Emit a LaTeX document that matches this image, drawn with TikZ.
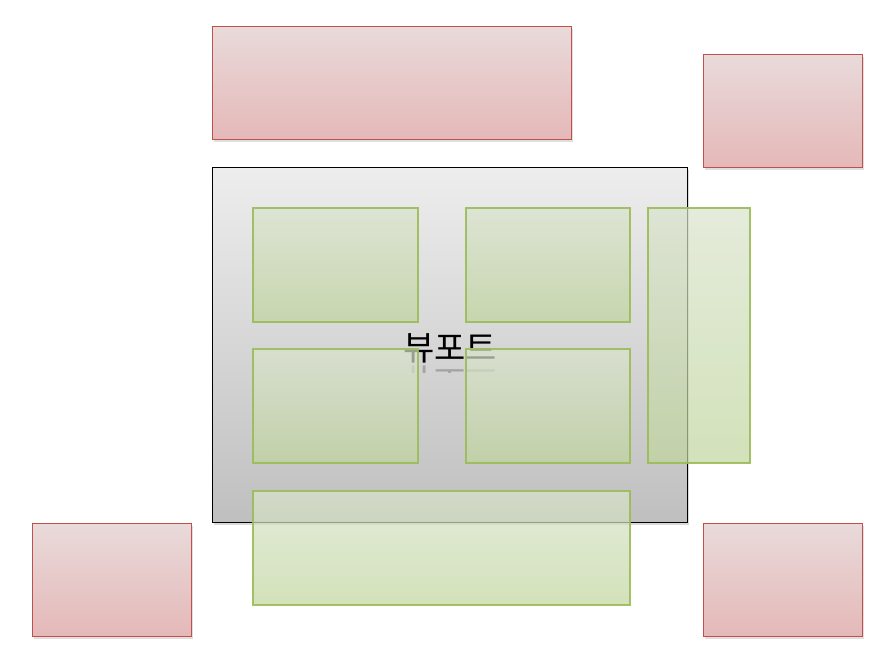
\documentclass[tikz,border=0pt]{standalone}
\usepackage{fontspec}
\newfontfamily\kr{Noto Sans CJK KR}
\usetikzlibrary{shadows}
\definecolor{redb}{HTML}{C0504D}
\definecolor{redt}{HTML}{E9DADA}
\definecolor{redbt}{HTML}{E5B8B8}
\definecolor{grnb}{HTML}{9BBB59}
\definecolor{grnt}{HTML}{D9E3CC}
\definecolor{grnbt}{HTML}{C0D59C}
\tikzset{
  redbox/.style={draw=redb, line width=1.2pt, top color=redt, bottom color=redbt, inner sep=0, anchor=north west, drop shadow={shadow xshift=1pt, shadow yshift=-2pt, opacity=0.25}},
  graybox/.style={draw=black, line width=1.2pt, top color=black!7, bottom color=black!25, inner sep=0, anchor=north west, drop shadow={shadow xshift=1pt, shadow yshift=-2pt, opacity=0.3}},
  grnbox/.style={draw=grnb, line width=1.6pt, top color=grnt, bottom color=grnbt, fill opacity=0.7, draw opacity=0.9, inner sep=0, anchor=north west},
  lblfont/.style={font=\kr\fontsize{34}{34}\selectfont, inner sep=0, anchor=base},
}
\begin{document}
\begin{tikzpicture}[x=1pt,y=-1pt]
\useasboundingbox (0,0) rectangle (895,668);
% red boxes
\node[redbox, minimum width=359pt, minimum height=113pt] (rt) at (212,26) {};
\node[redbox, minimum width=159pt, minimum height=113pt] (rr) at (703,54) {};
\node[redbox, minimum width=159pt, minimum height=113pt] (rbl) at (32,523) {};
\node[redbox, minimum width=159pt, minimum height=113pt] (rbr) at (703,523) {};
% viewport
\node[graybox, minimum width=475pt, minimum height=355pt] (vp) at (212,167) {};
\node[lblfont] (lbl) at (450,361) {뷰포트};
\begin{scope}
\clip (380,365) rectangle (520,373);
\node[lblfont, yscale=-1, opacity=0.22] (refl) at (450,369) {뷰포트};
\end{scope}
% green boxes
\node[grnbox, minimum width=165pt, minimum height=114pt] (g1) at (252,207) {};
\node[grnbox, minimum width=164pt, minimum height=114pt] (g2) at (465,207) {};
\node[grnbox, minimum width=165pt, minimum height=114pt] (g3) at (252,348) {};
\node[grnbox, minimum width=164pt, minimum height=114pt] (g4) at (465,348) {};
\node[grnbox, minimum width=102pt, minimum height=255pt] (g5) at (647,207) {};
\node[grnbox, minimum width=377pt, minimum height=114pt] (g6) at (252,490) {};
\end{tikzpicture}
\end{document}
